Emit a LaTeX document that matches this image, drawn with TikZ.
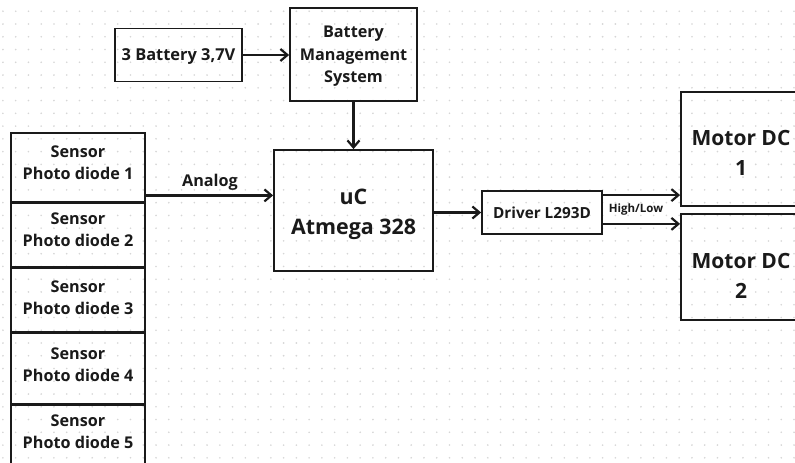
\documentclass[tikz,border=0pt]{standalone}
\usepackage{fontspec}
\setmainfont{Open Sans}
\usetikzlibrary{arrows.meta,calc}
\definecolor{ink}{HTML}{1A1A1A}
\definecolor{dotc}{HTML}{D6D6D6}
\begin{document}
\begin{tikzpicture}[x=1pt,y=-1pt,
  blk/.style={draw=ink,line width=1.8pt,rectangle,inner sep=0pt},
  txt/.style={inner sep=0pt,align=center,text=ink},
  sens/.style={blk,minimum width=134pt},
  stxt/.style={txt,font=\bfseries\fontsize{16.2}{22}\selectfont},
  conn/.style={draw=ink,line width=2.4pt,-{Straight Barb[length=7pt,width=12pt,line width=2.2pt]}},
  lbl/.style={font=\bfseries,text=ink,inner sep=0pt}]
\useasboundingbox (0,0) rectangle (795,463);
\fill[white] (0,0) rectangle (795,463);
\clip (0,0) rectangle (795,463);
% dotted grid
\foreach \i in {0,...,62}{
  \foreach \j in {0,...,36}{
    \fill[dotc] ({2.9+12.76*\i},{11.24+12.76*\j}) circle (0.9);
  }
}
% sensors
\node[sens,minimum height=69pt] (s1) at (78,167.5) {};
\node[sens,minimum height=65pt] (s2) at (78,234.5) {};
\node[sens,minimum height=65pt] (s3) at (78,299.5) {};
\node[sens,minimum height=72pt] (s4) at (78,368) {};
\node[sens,minimum height=64pt] (s5) at (78,436) {};
\node[stxt] (s1t) at ($(s1)+(0,-4.5)$) {Sensor\\Photo diode 1};
\node[stxt] (s2t) at ($(s2)+(0,-4.5)$) {Sensor\\Photo diode 2};
\node[stxt] (s3t) at ($(s3)+(0,-2)$) {Sensor\\Photo diode 3};
\node[stxt] (s4t) at ($(s4)+(0,-3)$) {Sensor\\Photo diode 4};
\node[stxt] (s5t) at ($(s5)+(0,-4.5)$) {Sensor\\Photo diode 5};
\draw[ink,line width=3pt] (s1.south west) -- (s1.south east);
\draw[ink,line width=3pt] (s2.south west) -- (s2.south east);
\draw[ink,line width=3pt] (s3.south west) -- (s3.south east);
\draw[ink,line width=3pt] (s4.south west) -- (s4.south east);
% top
\node[blk,minimum width=127pt,minimum height=53pt] (bat) at (178.5,55) {};
\node[txt,font=\bfseries\fontsize{16.4}{22}\selectfont] (batt) at ($(bat)+(0,2)$) {3 Battery 3,7V};
\node[blk,minimum width=127pt,minimum height=93pt] (bms) at (353.5,54.5) {};
\node[txt,font=\bfseries\fontsize{16.2}{22.5}\selectfont] (bmst) at ($(bms)+(0,2)$) {Battery\\Management\\System};
\node[blk,minimum width=159pt,minimum height=121pt] (uc) at (353.5,210.5) {};
\node[txt,font=\bfseries\fontsize{21.4}{30}\selectfont] (uct) at ($(uc)+(0,4)$) {uC\\Atmega 328};
\node[blk,minimum width=120pt,minimum height=43pt] (drv) at (542,212.5) {};
\node[txt,font=\bfseries\fontsize{15.3}{18}\selectfont] (drvt) at ($(drv)+(0,0.5)$) {Driver L293D};
\node[blk,minimum width=120pt,minimum height=114pt] (m1) at (741,149) {};
\node[txt,font=\bfseries\fontsize{21}{30}\selectfont] (m1t) at ($(m1)+(0,4)$) {Motor DC\\1};
\node[blk,minimum width=120pt,minimum height=106pt] (m2) at (741,267) {};
\node[txt,font=\bfseries\fontsize{21}{30}\selectfont] (m2t) at ($(m2)+(0,8.5)$) {Motor DC\\2};
% connectors
\draw[conn] (bat.east) -- (bat.east -| bms.west);
\draw[conn] (bms.south) -- (uc.north);
\coordinate (a1) at ($(s1.south east)+(0,-7.5)$);
\draw[conn] (a1) -- (a1 -| uc.west);
\draw[conn] (drv.west -| uc.east) -- (drv.west);
\coordinate (d1) at ($(drv.north east)+(0,5)$);
\coordinate (d2) at ($(drv.south east)+(0,-11)$);
\draw[conn] (d1) -- (d1 -| m1.west);
\draw[conn] (d2) -- (d2 -| m2.west);
% labels
\node[lbl,font=\bfseries\fontsize{16.2}{18}\selectfont] (lan) at (210,182) {Analog};
\node[lbl,font=\bfseries\fontsize{11.5}{13}\selectfont] (lhl) at (636,210) {High/Low};
\end{tikzpicture}
\end{document}
